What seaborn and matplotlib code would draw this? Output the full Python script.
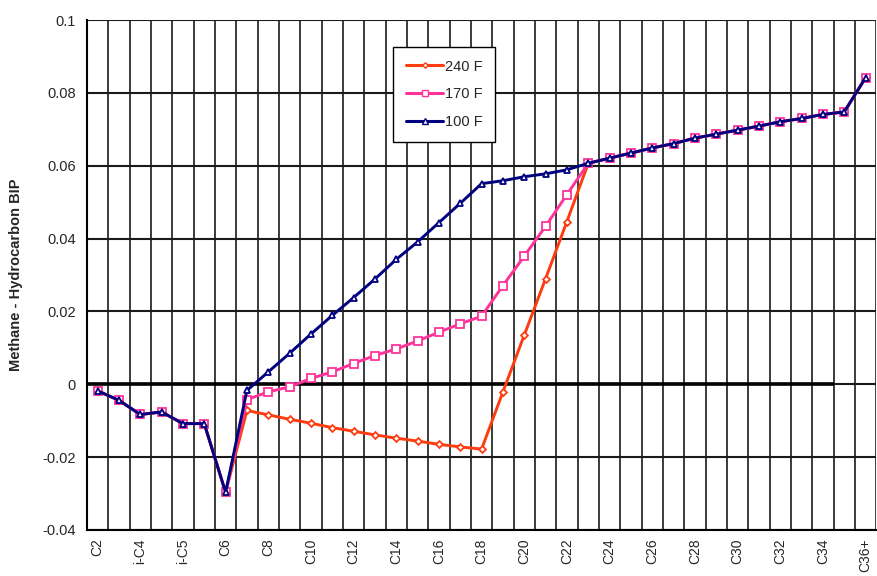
import numpy as np
import pandas as pd
import matplotlib
matplotlib.use("Agg")
import matplotlib.pyplot as plt
from matplotlib.ticker import FixedLocator, FixedFormatter
from matplotlib.lines import Line2D
import seaborn as sns

# ---- data ----
components = ["C2", "C3", "i-C4", "n-C4", "i-C5", "n-C5", "C6", "C7", "C8", "C9",
              "C10", "C11", "C12", "C13", "C14", "C15", "C16", "C17", "C18", "C19",
              "C20", "C21", "C22", "C23", "C24", "C25", "C26", "C27", "C28", "C29",
              "C30", "C31", "C32", "C33", "C34", "C35", "C36+"]

bip_240 = [-0.0018, -0.0044, -0.0083, -0.0076, -0.0108, -0.0108, -0.0297,
           -0.0072, -0.0084, -0.0096, -0.0107, -0.0119, -0.0129, -0.0139, -0.0148,
           -0.0156, -0.0165, -0.0172, -0.0178, -0.0021, 0.0135, 0.0290, 0.0447,
           0.0607, 0.0621, 0.0635, 0.0649, 0.0661, 0.0676, 0.0687, 0.0698, 0.0709,
           0.0721, 0.0730, 0.0741, 0.0748, 0.0842]

bip_170 = [-0.0018, -0.0044, -0.0083, -0.0076, -0.0108, -0.0108, -0.0297,
           -0.0042, -0.0021, -0.0007, 0.0016, 0.0034, 0.0057, 0.0079, 0.0097,
           0.0119, 0.0143, 0.0166, 0.0187, 0.0271, 0.0352, 0.0434, 0.0521,
           0.0607, 0.0621, 0.0635, 0.0649, 0.0661, 0.0676, 0.0687, 0.0698, 0.0709,
           0.0721, 0.0730, 0.0741, 0.0748, 0.0842]

bip_100 = [-0.0018, -0.0044, -0.0083, -0.0076, -0.0108, -0.0108, -0.0297,
           -0.0017, 0.0034, 0.0085, 0.0138, 0.0189, 0.0238, 0.0289, 0.0343,
           0.0391, 0.0444, 0.0497, 0.0551, 0.0559, 0.0570, 0.0578, 0.0589,
           0.0607, 0.0621, 0.0635, 0.0649, 0.0661, 0.0676, 0.0687, 0.0698, 0.0709,
           0.0721, 0.0730, 0.0741, 0.0748, 0.0842]

series_names = ["240 F", "170 F", "100 F"]
series_colors = ["#ff3b10", "#ff3399", "#000080"]
series_markers = ["D", "s", "^"]
marker_sizes = [3.5, 5.5, 5]

y_ticks = [-0.04, -0.02, 0.0, 0.02, 0.04, 0.06, 0.08, 0.1]
y_labels = ["-0.04", "-0.02", "0", "0.02", "0.04", "0.06", "0.08", "0.1"]

# ---- figure ----
sns.set_style("white")
plt.rcParams["font.family"] = ["Liberation Sans", "DejaVu Sans"]

fig = plt.figure(figsize=(8.78, 5.76), dpi=100)
ax = fig.add_axes([0.099, 0.080, 0.899, 0.885])

pos = np.arange(len(components))
df = pd.DataFrame({"pos": pos, "240 F": bip_240, "170 F": bip_170, "100 F": bip_100})

for name, col, mk, ms in zip(series_names, series_colors, series_markers, marker_sizes):
    sns.lineplot(data=df, x="pos", y=name, ax=ax, color=col, marker=mk,
                 markersize=ms, markerfacecolor="white", markeredgecolor=col,
                 markeredgewidth=1.3, linewidth=2.1, zorder=4)

# thick zero reference line
ax.hlines(0, -0.5, 34.5, color="black", linewidth=2.6, zorder=3)

ax.set_xlim(-0.5, len(components) - 0.5)
ax.set_ylim(-0.04, 0.1)

# category labels every other, gridlines on category boundaries
major = pos[::2]
ax.xaxis.set_major_locator(FixedLocator(major))
ax.xaxis.set_major_formatter(FixedFormatter([components[i] for i in major]))
ax.xaxis.set_minor_locator(FixedLocator(np.arange(len(components) + 1) - 0.5))
ax.tick_params(axis="x", which="major", length=0, rotation=90, labelsize=10, pad=6)
ax.tick_params(axis="x", which="minor", length=4, width=1, color="black", direction="out")
ax.grid(which="minor", axis="x", color="#1a1a1a", linewidth=1.2)

ax.set_yticks(y_ticks)
ax.set_yticklabels(y_labels)
ax.tick_params(axis="y", length=5, width=1, color="black", labelsize=10.5, pad=3)
ax.grid(which="major", axis="y", color="#1a1a1a", linewidth=1.5)
ax.set_axisbelow(True)

for side in ["top", "right"]:
    ax.spines[side].set_visible(False)
for side in ["left", "bottom"]:
    ax.spines[side].set_color("black")
    ax.spines[side].set_linewidth(1.5)

ax.set_xlabel("")
ax.set_ylabel("Methane - Hydrocarbon BIP", fontsize=10.5, fontweight="bold", labelpad=14)

handles = [Line2D([0], [0], color=c, marker=m, markersize=s * 0.8, markerfacecolor="white",
                  markeredgecolor=c, linewidth=2.2)
           for c, m, s in zip(series_colors, series_markers, marker_sizes)]
leg = ax.legend(handles, series_names, loc="upper left", bbox_to_anchor=(0.388, 0.947),
                frameon=True, fancybox=False, edgecolor="black", framealpha=1,
                fontsize=10.5, handlelength=2.6, handletextpad=0.1, labelspacing=0.95,
                borderpad=0.85, borderaxespad=0)
leg.get_frame().set_linewidth(1.0)

fig.savefig("out.png", dpi=100)
